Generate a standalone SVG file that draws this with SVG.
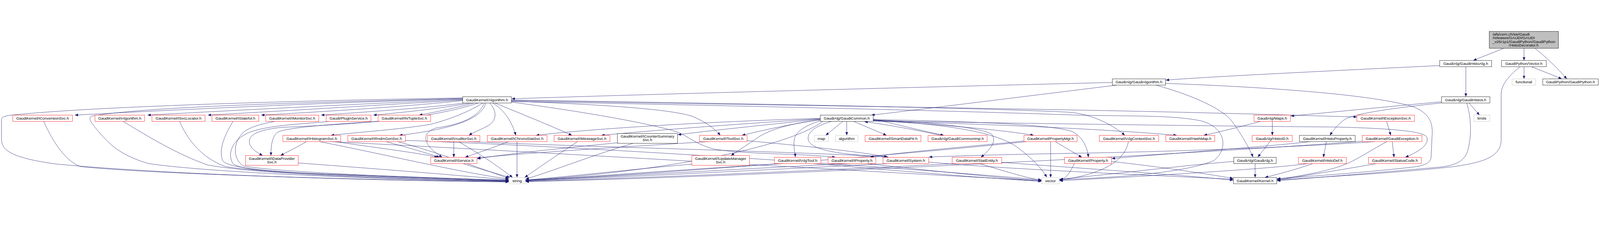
<svg xmlns="http://www.w3.org/2000/svg" width="5391" height="637" viewBox="0 0 5391 637" style="width:100vw;height:100vh">
<defs>
<marker id="a" viewBox="0 0 11 9" refX="11" refY="4.5" markerWidth="11" markerHeight="9" orient="auto" markerUnits="userSpaceOnUse"><path d="M0,0 L11,4.5 L0,9 z" fill="#191970"/></marker>
</defs>
<style>
text{font-family:"Liberation Sans",Arial,sans-serif;font-size:13px;fill:#000;text-anchor:middle}
.r rect{fill:#fff;stroke:#ff0000;stroke-width:1}
.k rect{fill:#fff;stroke:#000;stroke-width:1}
.g rect{fill:#fff;stroke:#bfbfbf;stroke-width:1}
#edges path{fill:none;stroke:#191970;stroke-width:1;marker-end:url(#a)}
</style>
<rect width="5391" height="637" fill="#fff"/>
<g id="edges">
<path d="M5066,62 C5040,73 5000,88 4964,103"/>
<path d="M5135,62 L5135,103"/>
<path d="M5172,62 C5205,88 5250,130 5279,165"/>
<path d="M5135,124 L5135,165"/>
<path d="M5160,124 C5190,136 5230,151 5262,165"/>
<path d="M5122,124 C5095,145 5058,180 5058,215 L5058,370 C5058,430 4990,447 4900,460 C4750,478 4500,493 4303,505"/>
<path d="M4851,120 C4500,137 4100,156 3928,169"/>
<path d="M4939,124 L4939,225"/>
<path d="M3748,177 C3000,195 2000,222 1724,232"/>
<path d="M3762,186 C3500,218 3150,262 2936,287"/>
<path d="M3895,186 C4000,215 4100,255 4145,300 C4180,345 4210,400 4222,428"/>
<path d="M3927,180 C4200,190 4600,212 4760,258 C4830,285 4827,330 4825,360 L4822,428 C4820,452 4790,459 4750,463 C4600,480 4400,494 4303,501"/>
<path d="M4950,246 L4985,287"/>
<path d="M4857,242 C4700,256 4500,276 4349,290"/>
<path d="M4857,246 C4700,262 4560,282 4530,302 C4510,317 4493,336 4481,355"/>
<path d="M4942,246 C4958,300 4958,355 4947,400 C4937,445 4900,458 4840,463 C4650,480 4450,496 4303,508"/>
<path d="M4287,308 L4287,355"/>
<path d="M4247,308 C4180,326 4115,342 4056,355"/>
<path d="M4279,376 C4266,394 4252,411 4238,428"/>
<path d="M4229,450 L4229,497"/>
<path d="M4157,443 C4000,455 3800,480 3570,503"/>
<path d="M4469,376 C4466,395 4462,411 4459,429"/>
<path d="M4415,376 C4300,390 4000,412 3746,433"/>
<path d="M4423,450 C4380,466 4320,482 4262,497"/>
<path d="M4408,450 C4300,465 4000,485 3570,508"/>
<path d="M4691,376 L4697,429"/>
<path d="M4673,376 C4620,405 4590,425 4560,440 C4520,462 4450,482 4303,503"/>
<path d="M4633,376 C4400,393 4000,408 3700,414 C3450,418 3250,423 3130,428"/>
<path d="M4600,374 C4000,420 2600,492 1771,511"/>
<path d="M4672,308 L4686,355"/>
<path d="M4638,450 C4550,466 4400,490 4303,506"/>
<path d="M3540,376 L3540,497"/>
<path d="M3555,376 C3585,394 3615,411 3645,429"/>
<path d="M3450,374 C3300,390 3050,410 2932,428"/>
<path d="M3460,376 C3000,425 2200,485 1771,508"/>
<path d="M3745,443 C3900,460 4050,482 4155,500"/>
<path d="M3620,450 C3605,480 3595,498 3570,506"/>
<path d="M3802,376 C3790,440 3720,485 3570,506"/>
<path d="M3129,445 C3400,470 3900,490 4155,503"/>
<path d="M2995,450 C2600,470 2100,496 1771,508"/>
<path d="M3220,450 C2800,472 2200,497 1771,510"/>
<path d="M3375,446 C3700,470 4000,490 4155,506"/>
<path d="M3300,450 C3400,480 3460,499 3509,506"/>
<path d="M2860,450 C2500,468 2000,497 1771,507"/>
<path d="M2920,450 C3100,470 3350,497 3509,508"/>
<path d="M2640,450 C2300,470 1950,497 1771,506"/>
<path d="M2740,450 C3000,472 3300,498 3509,510"/>
<path d="M2331,452 C2100,472 1900,496 1771,505"/>
<path d="M2390,376 C2100,394 1800,412 1608,431"/>
<path d="M2517,373 C2700,390 2900,410 2990,428"/>
<path d="M2133,382 C2000,420 1850,480 1771,502"/>
<path d="M2080,380 C1900,398 1700,418 1608,434"/>
<path d="M1946,376 C1880,420 1820,460 1768,497"/>
<path d="M1742,376 L1742,497"/>
<path d="M1714,376 C1665,395 1615,412 1567,429"/>
<path d="M1529,376 L1529,429"/>
<path d="M1545,376 C1620,420 1680,460 1727,497"/>
<path d="M1577,376 C2000,395 2700,410 2992,428"/>
<path d="M1560,450 C1620,470 1680,485 1718,497"/>
<path d="M1300,376 C1370,395 1430,412 1481,429"/>
<path d="M1340,376 C1500,420 1650,478 1714,500"/>
<path d="M1366,372 C2000,395 3000,460 3509,505"/>
<path d="M1033,376 C1000,395 970,410 945,423"/>
<path d="M1130,376 C1250,395 1400,412 1475,429"/>
<path d="M1076,376 C1300,420 1550,480 1714,502"/>
<path d="M1110,376 C1800,410 2800,470 3509,508"/>
<path d="M1005,448 C1300,470 1550,490 1714,505"/>
<path d="M1280,308 C1100,318 960,330 935,345 C915,360 913,395 913,423"/>
<path d="M1110,308 C1000,318 900,322 840,345 C780,370 765,420 785,450 C810,470 900,478 1100,485 C1400,495 1600,503 1714,506"/>
<path d="M927,308 C870,318 830,332 815,350 C780,390 790,440 820,458 C900,475 1300,495 1714,507"/>
<path d="M785,308 C760,350 735,400 750,440 C765,465 900,475 1100,487 C1400,497 1600,505 1714,508"/>
<path d="M605,308 C640,390 700,440 760,460 C900,485 1400,500 1714,509"/>
<path d="M415,308 C500,360 600,420 700,455 C900,490 1400,503 1714,510"/>
<path d="M147,308 C180,380 220,440 270,460 C500,485 1200,505 1714,511"/>
<path d="M1559,229 C1000,238 300,258 30,288 C8,292 5,296 5,305 L5,367 C5,400 25,430 193,452 C600,490 1300,508 1714,512"/>
<path d="M1559,231 C1000,245 500,258 310,290 C295,295 305,310 330,340 C380,400 420,425 500,450 C700,480 1300,505 1714,509"/>
<path d="M1559,232 C1100,245 600,268 252,287"/>
<path d="M1559,234 C1200,250 800,270 497,287"/>
<path d="M1559,236 C1300,252 1000,270 700,287"/>
<path d="M1559,238 C1400,255 1150,272 880,287"/>
<path d="M1565,246 C1450,262 1250,275 1082,287"/>
<path d="M1585,246 C1500,262 1380,276 1258,287"/>
<path d="M1597,246 C1540,262 1470,276 1412,287"/>
<path d="M1627,246 C1580,275 1520,300 1450,318 C1350,335 1200,345 1115,355"/>
<path d="M1637,246 C1625,290 1560,330 1345,355"/>
<path d="M1650,246 C1680,280 1670,310 1640,325 C1610,340 1590,348 1580,355"/>
<path d="M1660,246 C1700,270 1725,310 1738,355"/>
<path d="M1667,246 C1750,280 1850,320 1927,355"/>
<path d="M1632,246 C1610,300 1540,320 1470,330 C1420,345 1420,385 1490,429"/>
<path d="M1612,246 C1450,300 1200,318 950,328 C880,335 840,350 840,375 C840,395 860,410 885,423"/>
<path d="M1723,240 C2000,250 2250,265 2330,290 C2380,310 2410,335 2427,355"/>
<path d="M1723,243 C2000,280 2200,318 2280,343 C2320,358 2335,380 2400,400 C2500,420 2700,415 2815,429"/>
<path d="M1723,238 C2500,252 3500,265 4050,279 C4300,285 4450,290 4572,293"/>
<path d="M1723,236 C2500,248 3300,262 3600,277 C3680,283 3750,320 3790,355"/>
<path d="M1723,241 C2500,255 3300,275 3600,286 C3800,292 3950,285 4050,307 C4130,330 4140,400 4090,440 C4000,478 3800,496 3570,504"/>
<path d="M2840,308 L2782,355"/>
<path d="M2853,308 L2853,355"/>
<path d="M2876,308 L2987,355"/>
<path d="M2942,300 C3020,318 3100,338 3180,355"/>
<path d="M3170,355 C3100,340 3010,322 2913,309"/>
<path d="M2942,305 C3200,320 3400,340 3483,355"/>
<path d="M2942,307 C3300,316 3700,332 3965,355"/>
<path d="M2942,302 C3300,308 3550,320 3612,342 C3650,360 3665,400 3667,429"/>
<path d="M2942,304 C3200,318 3350,345 3420,390 C3470,425 3505,460 3527,496"/>
<path d="M2942,303 C3150,310 3300,330 3340,350 C3360,372 3340,400 3305,429"/>
<path d="M2802,308 C2740,325 2715,350 2725,375 C2745,410 2850,420 2993,428"/>
<path d="M2764,306 C2720,320 2680,340 2676,370 C2673,395 2678,410 2680,428"/>
<path d="M2764,303 C2650,316 2590,340 2560,358 C2520,385 2490,405 2463,423"/>
<path d="M2764,302 C2660,318 2570,338 2500,355"/>
<path d="M2764,300 C2600,318 2400,338 2284,353"/>
<path d="M2764,299 C2500,316 2200,338 2026,355"/>
<path d="M2764,298 C2400,308 2000,332 1806,355"/>
<path d="M2942,306 C3500,316 4200,325 4500,327 C4700,332 4800,342 4808,362 C4815,388 4780,410 4735,429"/>
<path d="M2772,308 C2650,400 2200,480 1771,506"/>
</g>
<g id="n_root"><rect x="5018" y="5" width="233" height="57" fill="#bfbfbf" stroke="#000"/><text x="5029" y="19.5" style="text-anchor:start">/afs/cern.ch/sw/Gaudi</text><text x="5029" y="31.5" style="text-anchor:start">/releases/GAUDI/GAUDI</text><text x="5029" y="43.5" style="text-anchor:start">_v25r1p1/GaudiPython/GaudiPython</text><text x="5134" y="55.5">/HistoDecorator.h</text></g>
<g id="n_GaudiHistoAlg" class="k"><rect x="4851" y="103" width="175" height="21"/><text x="4938.5" y="118">GaudiAlg/GaudiHistoAlg.h</text></g>
<g id="n_Vector" class="k"><rect x="5059" y="103" width="151" height="21"/><text x="5134.5" y="118">GaudiPython/Vector.h</text></g>
<g id="n_GaudiAlgorithm" class="k"><rect x="3748" y="165" width="179" height="21"/><text x="3837.5" y="180">GaudiAlg/GaudiAlgorithm.h</text></g>
<g id="n_functional" class="g"><rect x="5095" y="165" width="79" height="21"/><text x="5134.5" y="180">functional</text></g>
<g id="n_GaudiPython" class="k"><rect x="5198" y="165" width="187" height="21"/><text x="5291.5" y="180">GaudiPython/GaudiPython.h</text></g>
<g id="n_Algorithm" class="k"><rect x="1559" y="225" width="164" height="21"/><text x="1641" y="240">GaudiKernel/Algorithm.h</text></g>
<g id="n_GaudiHistos" class="k"><rect x="4857" y="225" width="163" height="21"/><text x="4938.5" y="240">GaudiAlg/GaudiHistos.h</text></g>
<g id="n_IConversionSvc" class="r"><rect x="43" y="287" width="201" height="21"/><text x="143.5" y="302">GaudiKernel/IConversionSvc.h</text></g>
<g id="n_IAlgorithm" class="r"><rect x="320" y="287" width="167" height="21"/><text x="403.5" y="302">GaudiKernel/IAlgorithm.h</text></g>
<g id="n_ISvcLocator" class="r"><rect x="512" y="287" width="179" height="21"/><text x="601.5" y="302">GaudiKernel/ISvcLocator.h</text></g>
<g id="n_IStateful" class="r"><rect x="714" y="287" width="158" height="21"/><text x="793" y="302">GaudiKernel/IStateful.h</text></g>
<g id="n_IMonitorSvc" class="r"><rect x="895" y="287" width="179" height="21"/><text x="984.5" y="302">GaudiKernel/IMonitorSvc.h</text></g>
<g id="n_PluginService" class="r"><rect x="1099" y="287" width="151" height="21"/><text x="1174.5" y="302">Gaudi/PluginService.h</text></g>
<g id="n_INTupleSvc" class="r"><rect x="1274" y="287" width="177" height="21"/><text x="1362.5" y="302">GaudiKernel/INTupleSvc.h</text></g>
<g id="n_GaudiCommon" class="k"><rect x="2764" y="287" width="178" height="21"/><text x="2853" y="302">GaudiAlg/GaudiCommon.h</text></g>
<g id="n_Maps" class="r"><rect x="4225" y="287" width="123" height="21"/><text x="4286.5" y="302">GaudiAlg/Maps.h</text></g>
<g id="n_IExceptionSvc" class="r"><rect x="4572" y="287" width="194" height="21"/><text x="4669" y="302">GaudiKernel/IExceptionSvc.h</text></g>
<g id="n_limits" class="g"><rect x="4966" y="287" width="54" height="21"/><text x="4993" y="302">limits</text></g>
<g id="n_IHistogramSvc" class="r"><rect x="953" y="355" width="195" height="21"/><text x="1050.5" y="370">GaudiKernel/IHistogramSvc.h</text></g>
<g id="n_IRndmGenSvc" class="r"><rect x="1172" y="355" width="194" height="21"/><text x="1269" y="370">GaudiKernel/IRndmGenSvc.h</text></g>
<g id="n_IAuditorSvc" class="r"><rect x="1441" y="355" width="176" height="21"/><text x="1529" y="370">GaudiKernel/IAuditorSvc.h</text></g>
<g id="n_IChronoStatSvc" class="r"><rect x="1642" y="355" width="201" height="21"/><text x="1742.5" y="370">GaudiKernel/IChronoStatSvc.h</text></g>
<g id="n_IMessageSvc" class="r"><rect x="1867" y="355" width="188" height="21"/><text x="1961" y="370">GaudiKernel/IMessageSvc.h</text></g>
<g id="n_ICounterSummarySvc" class="k"><rect x="2080" y="349" width="203" height="33"/><text x="2181.5" y="363">GaudiKernel/ICounterSummary</text><text x="2181.5" y="375">Svc.h</text></g>
<g id="n_IToolSvc" class="r"><rect x="2357" y="355" width="160" height="21"/><text x="2437" y="370">GaudiKernel/IToolSvc.h</text></g>
<g id="n_map" class="g"><rect x="2744" y="355" width="47" height="21"/><text x="2767.5" y="370">map</text></g>
<g id="n_algorithm" class="g"><rect x="2815" y="355" width="76" height="21"/><text x="2853" y="370">algorithm</text></g>
<g id="n_SmartDataPtr" class="r"><rect x="2915" y="355" width="188" height="21"/><text x="3009" y="370">GaudiKernel/SmartDataPtr.h</text></g>
<g id="n_GaudiCommonImp" class="r"><rect x="3127" y="355" width="199" height="21"/><text x="3226.5" y="370">GaudiAlg/GaudiCommonImp.h</text></g>
<g id="n_PropertyMgr" class="r"><rect x="3450" y="355" width="179" height="21"/><text x="3539.5" y="370">GaudiKernel/PropertyMgr.h</text></g>
<g id="n_IAlgContextSvc" class="r"><rect x="3704" y="355" width="200" height="21"/><text x="3804" y="370">GaudiKernel/IAlgContextSvc.h</text></g>
<g id="n_HashMap" class="r"><rect x="3928" y="355" width="165" height="21"/><text x="4010.5" y="370">GaudiKernel/HashMap.h</text></g>
<g id="n_HistoID" class="r"><rect x="4219" y="355" width="135" height="21"/><text x="4286.5" y="370">GaudiAlg/HistoID.h</text></g>
<g id="n_HistoProperty" class="k"><rect x="4378" y="355" width="188" height="21"/><text x="4472" y="370">GaudiKernel/HistoProperty.h</text></g>
<g id="n_GaudiException" class="r"><rect x="4590" y="355" width="201" height="21"/><text x="4690.5" y="370">GaudiKernel/GaudiException.h</text></g>
<g id="n_IDataProviderSvc" class="r"><rect x="827" y="423" width="178" height="33"/><text x="916" y="437">GaudiKernel/IDataProvider</text><text x="916" y="449">Svc.h</text></g>
<g id="n_IService" class="r"><rect x="1451" y="429" width="156" height="21"/><text x="1529" y="444">GaudiKernel/IService.h</text></g>
<g id="n_IUpdateManagerSvc" class="r"><rect x="2331" y="423" width="194" height="33"/><text x="2428" y="437">GaudiKernel/IUpdateManager</text><text x="2428" y="449">Svc.h</text></g>
<g id="n_IAlgTool" class="r"><rect x="2609" y="429" width="157" height="21"/><text x="2687.5" y="444">GaudiKernel/IAlgTool.h</text></g>
<g id="n_IProperty" class="r"><rect x="2790" y="429" width="161" height="21"/><text x="2870.5" y="444">GaudiKernel/IProperty.h</text></g>
<g id="n_System" class="r"><rect x="2975" y="429" width="154" height="21"/><text x="3052" y="444">GaudiKernel/System.h</text></g>
<g id="n_StatEntity" class="r"><rect x="3208" y="429" width="167" height="21"/><text x="3291.5" y="444">GaudiKernel/StatEntity.h</text></g>
<g id="n_Property" class="r"><rect x="3587" y="429" width="158" height="21"/><text x="3666" y="444">GaudiKernel/Property.h</text></g>
<g id="n_GaudiAlg" class="k"><rect x="4157" y="429" width="143" height="21"/><text x="4228.5" y="444">GaudiAlg/GaudiAlg.h</text></g>
<g id="n_HistoDef" class="r"><rect x="4375" y="429" width="161" height="21"/><text x="4455.5" y="444">GaudiKernel/HistoDef.h</text></g>
<g id="n_StatusCode" class="r"><rect x="4611" y="429" width="178" height="21"/><text x="4700" y="444">GaudiKernel/StatusCode.h</text></g>
<g id="n_string" class="g"><rect x="1715" y="497" width="55" height="21"/><text x="1742.5" y="512">string</text></g>
<g id="n_vector" class="g"><rect x="3510" y="497" width="59" height="21"/><text x="3539.5" y="512">vector</text></g>
<g id="n_Kernel" class="k"><rect x="4156" y="497" width="146" height="21"/><text x="4229" y="512">GaudiKernel/Kernel.h</text></g>
</svg>
